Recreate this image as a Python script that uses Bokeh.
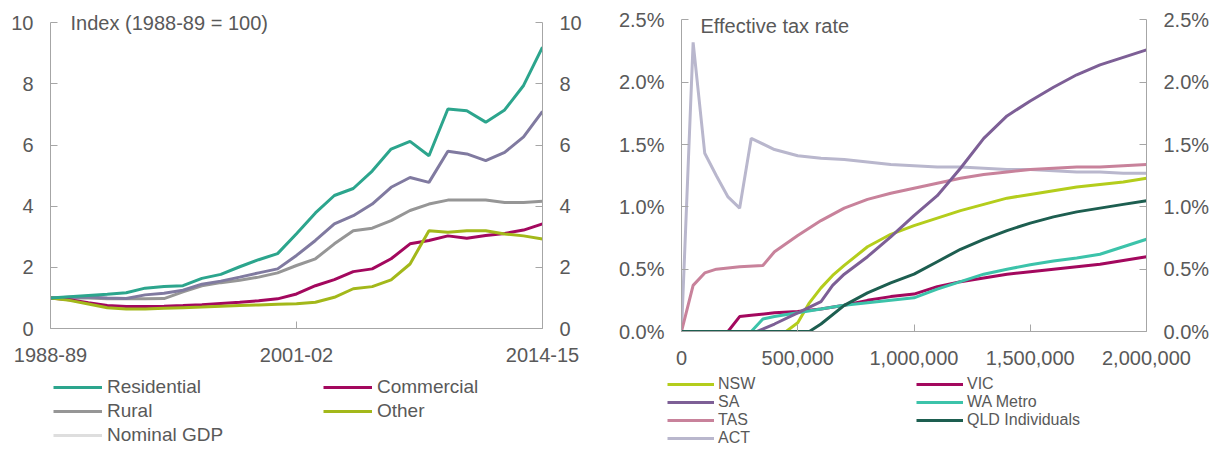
from bokeh.plotting import figure
from bokeh.models import (Range1d, LinearAxis, FixedTicker, Legend, LegendItem, Label,
                          NumeralTickFormatter, PrintfTickFormatter)
from bokeh.layouts import row, column
from bokeh.embed import file_html
from bokeh.resources import INLINE

FONT = "Liberation Sans"
TXT = "#595959"
AXC = "#a6a6a6"

# ---------------- left chart data ----------------
years = [f"{y}-{(y + 1) % 100:02d}" for y in range(1988, 2015)]
year_ticks = ["1988-89", "2001-02", "2014-15"]
left_yticks = [0, 2, 4, 6, 8, 10]

residential = [1.00, 1.04, 1.08, 1.12, 1.17, 1.32, 1.37, 1.40, 1.64, 1.77, 2.02, 2.25, 2.45, 3.10,
               3.78, 4.35, 4.58, 5.15, 5.87, 6.12, 5.65, 7.18, 7.12, 6.75, 7.15, 7.95, 9.20]
commercial = [1.00, 0.94, 0.84, 0.75, 0.72, 0.72, 0.73, 0.75, 0.78, 0.82, 0.86, 0.91, 0.97, 1.13,
              1.40, 1.60, 1.86, 1.95, 2.28, 2.77, 2.88, 3.03, 2.95, 3.04, 3.11, 3.22, 3.42]
rural = [1.00, 1.00, 1.00, 0.97, 0.97, 0.97, 0.98, 1.20, 1.40, 1.50, 1.58, 1.68, 1.82, 2.06,
         2.28, 2.77, 3.20, 3.28, 3.53, 3.86, 4.07, 4.20, 4.20, 4.20, 4.12, 4.12, 4.16]
other = [1.00, 0.92, 0.80, 0.68, 0.64, 0.64, 0.66, 0.68, 0.70, 0.73, 0.75, 0.77, 0.79, 0.81,
         0.86, 1.02, 1.30, 1.37, 1.59, 2.11, 3.20, 3.15, 3.20, 3.20, 3.09, 3.03, 2.93]
nominal_gdp = [1.00, 1.02, 1.03, 1.00, 0.98, 1.10, 1.15, 1.25, 1.45, 1.55, 1.68, 1.82, 1.95, 2.39,
               2.88, 3.42, 3.69, 4.07, 4.62, 4.94, 4.78, 5.80, 5.71, 5.49, 5.76, 6.27, 7.10]

# ---------------- right chart data (value, effective rate %) ----------------
right_xticks = [0, 500000, 1000000, 1500000, 2000000]
right_yticks = [0.0, 0.5, 1.0, 1.5, 2.0, 2.5]
upper_x = [1000000, 1100000, 1200000, 1300000, 1400000, 1500000, 1600000, 1700000, 1800000, 1900000, 2000000]

nsw_x = [0, 450000, 500000, 550000, 600000, 650000, 700000, 800000, 900000] + upper_x
nsw = [0, 0, 0.07, 0.23, 0.35, 0.45, 0.53, 0.68, 0.78,
       0.85, 0.91, 0.97, 1.02, 1.07, 1.10, 1.13, 1.16, 1.18, 1.20, 1.23]
vic_x = [0, 200000, 250000, 300000, 400000, 500000, 600000, 700000, 800000, 900000] + upper_x
vic = [0, 0, 0.12, 0.13, 0.15, 0.16, 0.18, 0.21, 0.25, 0.28,
       0.30, 0.36, 0.40, 0.43, 0.46, 0.48, 0.50, 0.52, 0.54, 0.57, 0.60]
sa_x = [0, 325000, 400000, 500000, 600000, 650000, 700000, 800000, 900000] + upper_x
sa = [0, 0, 0.06, 0.15, 0.24, 0.37, 0.46, 0.60, 0.76,
      0.93, 1.09, 1.31, 1.55, 1.73, 1.85, 1.96, 2.06, 2.14, 2.20, 2.26]
wa_x = [0, 300000, 350000, 400000, 500000, 600000, 700000, 800000, 900000] + upper_x
wa = [0, 0, 0.10, 0.12, 0.15, 0.18, 0.21, 0.23, 0.25,
      0.27, 0.34, 0.40, 0.46, 0.50, 0.535, 0.565, 0.59, 0.62, 0.68, 0.74]
tas_x = [0, 50000, 100000, 150000, 200000, 250000, 350000, 400000, 500000, 600000, 700000, 800000, 900000] + upper_x
tas = [0, 0.37, 0.47, 0.50, 0.51, 0.52, 0.53, 0.64, 0.77, 0.89, 0.99, 1.06, 1.11,
       1.15, 1.19, 1.23, 1.26, 1.28, 1.30, 1.31, 1.32, 1.32, 1.33, 1.34]
qld_x = [0, 550000, 600000, 700000, 800000, 900000] + upper_x
qld = [0, 0, 0.06, 0.21, 0.31, 0.39,
       0.46, 0.56, 0.66, 0.74, 0.81, 0.87, 0.92, 0.96, 0.99, 1.02, 1.05]
act_x = [0, 50000, 100000, 150000, 200000, 250000, 300000, 400000, 500000, 600000, 700000, 800000, 900000] + upper_x
act = [0, 2.32, 1.43, 1.25, 1.08, 0.99, 1.55, 1.46, 1.41, 1.39, 1.38, 1.36, 1.34,
       1.33, 1.32, 1.32, 1.31, 1.30, 1.30, 1.29, 1.28, 1.28, 1.27, 1.27]

# series styles
LEFT_COLORS = {"Residential": "#2ca58d", "Commercial": "#a3085e", "Rural": "#969696",
               "Other": "#a3b81a", "Nominal GDP": "#807aa0"}
GDP_KEY_COLOR = "#dedede"
RIGHT_COLORS = {"NSW": "#b4cd1c", "VIC": "#a3085e", "SA": "#7d5f96", "WA Metro": "#3cc3aa",
                "TAS": "#c8829b", "QLD Individuals": "#1d5e50", "ACT": "#b9b7cd"}


def style_axis(ax, standoff):
    ax.axis_line_color = AXC
    ax.major_tick_line_color = AXC
    ax.major_tick_in = 7
    ax.major_tick_out = 0
    ax.minor_tick_line_color = None
    ax.major_label_text_font = FONT
    ax.major_label_text_font_size = "20px"
    ax.major_label_text_color = TXT
    ax.major_label_standoff = standoff


def base_fig(xr, yr, frame_w, frame_h, bl, br, bt, bb):
    p = figure(x_range=xr, y_range=yr, frame_width=frame_w, frame_height=frame_h,
               min_border_left=bl, min_border_right=br, min_border_top=bt, min_border_bottom=bb,
               output_backend="svg", toolbar_location=None, title=None)
    p.outline_line_color = None
    p.xgrid.visible = False
    p.ygrid.visible = False
    p.background_fill_color = "white"
    p.border_fill_color = "white"
    return p


# ================= left figure =================
idx = list(range(len(years)))
p1 = base_fig(Range1d(0, len(years) - 1), Range1d(0, 10.5), 492, 321, 50, 58, 7, 46)

p1.line(idx, rural, line_color=LEFT_COLORS["Rural"], line_width=3)
p1.line(idx, nominal_gdp, line_color=LEFT_COLORS["Nominal GDP"], line_width=3)
p1.line(idx, commercial, line_color=LEFT_COLORS["Commercial"], line_width=3)
p1.line(idx, other, line_color=LEFT_COLORS["Other"], line_width=3)
p1.line(idx, residential, line_color=LEFT_COLORS["Residential"], line_width=3)

tick_idx = [years.index(t) for t in year_ticks]
p1.xaxis.ticker = FixedTicker(ticks=tick_idx)
p1.xaxis.major_label_overrides = {i: t for i, t in zip(tick_idx, year_ticks)}
p1.yaxis.ticker = FixedTicker(ticks=left_yticks)
p1.yaxis.bounds = (0, 10)
p1.add_layout(LinearAxis(ticker=FixedTicker(ticks=left_yticks), bounds=(0, 10)), "right")
for ax in p1.xaxis:
    style_axis(ax, 19)
for ax in p1.yaxis:
    style_axis(ax, 17)

p1.add_layout(Label(x=1.06, y=10, text="Index (1988-89 = 100)", text_baseline="middle",
                    text_font=FONT, text_font_size="20px", text_color=TXT))

# ================= right figure =================
p2 = base_fig(Range1d(0, 2000000), Range1d(0, 2.6), 465, 324, 81, 68, 5, 45)

p2.line(act_x, act, line_color=RIGHT_COLORS["ACT"], line_width=3)
p2.line(tas_x, tas, line_color=RIGHT_COLORS["TAS"], line_width=3)
p2.line(nsw_x, nsw, line_color=RIGHT_COLORS["NSW"], line_width=3)
p2.line(vic_x, vic, line_color=RIGHT_COLORS["VIC"], line_width=3)
p2.line(wa_x, wa, line_color=RIGHT_COLORS["WA Metro"], line_width=3)
p2.line(sa_x, sa, line_color=RIGHT_COLORS["SA"], line_width=3)
p2.line(qld_x, qld, line_color=RIGHT_COLORS["QLD Individuals"], line_width=3)

p2.xaxis.ticker = FixedTicker(ticks=right_xticks)
p2.xaxis.formatter = NumeralTickFormatter(format="0,0")
p2.yaxis.ticker = FixedTicker(ticks=right_yticks)
p2.yaxis.formatter = PrintfTickFormatter(format="%.1f%%")
p2.yaxis.bounds = (0, 2.5)
p2.add_layout(LinearAxis(ticker=FixedTicker(ticks=right_yticks), bounds=(0, 2.5),
                         formatter=PrintfTickFormatter(format="%.1f%%")), "right")
for ax in p2.xaxis:
    style_axis(ax, 19)
for ax in p2.yaxis:
    style_axis(ax, 17)

p2.add_layout(Label(x=81700, y=2.452, text="Effective tax rate", text_baseline="middle",
                    text_font=FONT, text_font_size="20px", text_color=TXT))

# ================= legend strip =================
# The key renderers reuse each series' data; the strip's x range lies left of all
# data, so only the legend swatches are visible.
LEG_H = 74
pl = figure(width=1214, height=LEG_H, x_range=Range1d(-2, -1), y_range=Range1d(0, 1),
            x_axis_type=None, y_axis_type=None, min_border_left=0, min_border_right=0,
            min_border_top=0, min_border_bottom=0, output_backend="svg",
            toolbar_location=None, title=None)
pl.outline_line_color = None
pl.xgrid.visible = False
pl.ygrid.visible = False
pl.background_fill_color = "white"
pl.border_fill_color = "white"

series_xy = {
    "Residential": (idx, residential), "Commercial": (idx, commercial), "Rural": (idx, rural),
    "Other": (idx, other), "Nominal GDP": (idx, nominal_gdp),
    "NSW": (nsw_x, nsw), "VIC": (vic_x, vic), "SA": (sa_x, sa), "WA Metro": (wa_x, wa),
    "TAS": (tas_x, tas), "QLD Individuals": (qld_x, qld), "ACT": (act_x, act),
}


def make_legend(names, colors, loc, font_size, glyph_w, lab_h, standoff):
    items = []
    for n, c in zip(names, colors):
        xs, ys = series_xy[n]
        r = pl.line(xs, ys, line_color=c, line_width=3)
        items.append(LegendItem(label=n, renderers=[r]))
    lg = Legend(items=items, location=loc, orientation="vertical")
    lg.label_text_font = FONT
    lg.label_text_font_size = font_size
    lg.label_text_color = TXT
    lg.glyph_width = glyph_w
    lg.glyph_height = lab_h
    lg.label_height = lab_h
    lg.label_standoff = standoff
    lg.spacing = 0
    lg.padding = 0
    lg.margin = 0
    lg.border_line_color = None
    lg.background_fill_alpha = 0
    pl.add_layout(lg)


lh, rh = 24, 18
l_col1 = ["Residential", "Rural", "Nominal GDP"]
l_col2 = ["Commercial", "Other"]
make_legend(l_col1, [LEFT_COLORS["Residential"], LEFT_COLORS["Rural"], GDP_KEY_COLOR],
            (53, LEG_H - 1 - 3 * lh), "19px", 49, lh, 5)
make_legend(l_col2, [LEFT_COLORS[n] for n in l_col2],
            (323, LEG_H - 1 - 2 * lh), "19px", 49, lh, 5)
r_col1 = ["NSW", "SA", "TAS", "ACT"]
r_col2 = ["VIC", "WA Metro", "QLD Individuals"]
make_legend(r_col1, [RIGHT_COLORS[n] for n in r_col1],
            (667, LEG_H - 1 - 4 * rh), "16px", 47, rh, 4)
make_legend(r_col2, [RIGHT_COLORS[n] for n in r_col2],
            (916, LEG_H - 1 - 3 * rh), "16px", 47, rh, 4)

layout = column(row(p1, p2), pl)
open("out.html", "w").write(file_html(layout, INLINE))
